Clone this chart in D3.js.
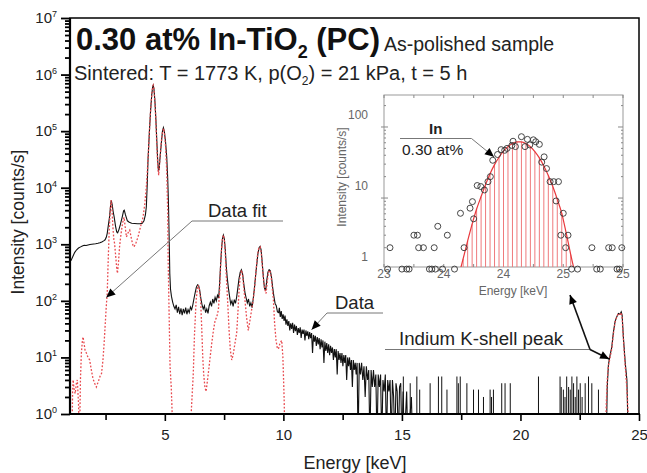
<!DOCTYPE html>
<html>
<head>
<meta charset="utf-8">
<script src="https://cdn.jsdelivr.net/npm/d3@7"></script>
<style>
  body { margin: 0; background: #fff; }
  svg { font-family: "Liberation Sans", Arial, sans-serif; }
</style>
</head>
<body>
<svg id="chart" width="647" height="473"></svg>
<script>
// measured spectrum, [energy keV, counts/s]; 0 = nothing recorded (drawn below the axis)
let spectrum = [
  [1.00,500],[1.05,525],[1.12,610],[1.2,720],[1.28,800],[1.36,860],[1.45,900],[1.52,930],[1.6,960],[1.68,950],
  [1.76,975],[1.84,990],[1.92,1000],[2.0,1010],[2.08,1020],[2.18,1040],[2.26,1060],[2.34,1100],[2.42,1150],[2.48,1200],
  [2.53,1330],[2.57,1560],[2.62,2200],[2.67,3100],[2.71,4800],[2.74,6000],[2.78,5000],[2.82,3800],[2.86,3100],[2.92,2100],
  [2.97,1650],[3.01,1600],[3.06,1800],[3.12,2200],[3.2,3000],[3.26,3900],[3.29,4000],[3.34,3300],[3.42,2600],[3.5,2450],
  [3.6,2350],[3.73,2330],[3.85,2300],[3.95,2300],[4.05,2350],[4.12,2600],[4.18,3300],[4.22,4600],[4.26,12000],[4.29,31000],
  [4.35,100000],[4.40,235000],[4.45,450000],[4.49,620000],[4.51,650000],[4.54,560000],[4.58,350000],[4.62,170000],[4.66,70000],[4.70,30000],
  [4.73,20000],[4.76,21000],[4.80,35000],[4.85,60000],[4.90,100000],[4.94,115000],[4.98,98000],[5.03,65000],[5.08,35000],[5.12,15000],
  [5.15,6000],[5.18,1500],[5.21,300],[5.24,160],[5.28,120],[5.33,95],[5.38,80],[5.43,72],[5.48,85],[5.53,62],
  [5.58,78],[5.63,58],[5.68,74],[5.73,56],[5.78,72],[5.83,60],[5.88,76],[5.93,58],[5.98,70],[6.03,62],
  [6.08,78],[6.13,70],[6.18,85],[6.23,110],[6.28,140],[6.33,175],[6.38,192],[6.42,188],[6.47,155],[6.52,110],
  [6.57,85],[6.62,72],[6.67,82],[6.72,62],[6.77,72],[6.82,60],[6.87,82],[6.92,95],[6.97,80],[7.02,108],
  [7.07,90],[7.12,115],[7.17,100],[7.22,125],[7.27,112],[7.31,200],[7.35,420],[7.39,800],[7.43,1250],[7.47,1450],
  [7.51,1250],[7.55,800],[7.59,420],[7.63,260],[7.68,170],[7.73,120],[7.78,88],[7.83,100],[7.88,80],[7.93,105],
  [7.98,90],[8.03,118],[8.08,170],[8.13,250],[8.18,320],[8.23,355],[8.28,300],[8.33,200],[8.38,140],[8.43,112],
  [8.48,92],[8.53,108],[8.58,80],[8.63,92],[8.68,76],[8.73,110],[8.78,170],[8.83,280],[8.88,450],[8.93,700],
  [8.98,880],[9.02,920],[9.06,800],[9.1,520],[9.15,280],[9.2,170],[9.25,150],[9.3,230],[9.35,320],[9.4,355],
  [9.45,340],[9.5,260],[9.55,170],[9.6,120],[9.65,90],[9.7,82],[9.75,64],[9.8,62],[9.83,75],[9.87,52],
  [9.91,66],[9.95,48],[9.99,58],[10.03,44],[10.07,55],[10.11,38],[10.15,47],[10.19,36],[10.23,44],[10.27,30],
  [10.31,40],[10.35,32],[10.39,41],[10.43,27],[10.47,38],[10.51,29],[10.55,36],[10.59,25],[10.63,33],[10.67,27],
  [10.71,34],[10.75,22],[10.79,31],[10.83,26],[10.87,31],[10.91,20],[10.95,30],[10.99,24],[11.03,29],[11.07,21],
  [11.11,28],[11.15,22],[11.19,27],[11.23,12],[11.27,25],[11.31,19],[11.35,24],[11.39,16],[11.43,23],[11.47,17],
  [11.51,22],[11.55,14],[11.59,21],[11.63,15],[11.67,20],[11.71,8],[11.75,19],[11.79,13],[11.83,18],[11.87,12],
  [11.91,17],[11.95,11],[11.99,16],[12.03,12],[12.07,15],[12.11,9],[12.15,14],[12.19,10],[12.23,14],[12.27,5],
  [12.31,13],[12.35,9],[12.39,12],[12.43,8],[12.47,12],[12.51,7],[12.55,11],[12.59,8],[12.63,11],[12.67,4],
  [12.71,10],[12.75,7],[12.79,10],[12.83,6],[12.87,9],[12.91,3],[12.95,9],[12.99,6],[13.03,8],[13.07,5],
  [13.11,8],[13.15,0],[13.2,8],[13.25,5],[13.3,8],[13.35,4],[13.4,7],[13.45,2],[13.5,7],[13.55,4],
  [13.6,6],[13.65,0],[13.7,6],[13.75,3],[13.8,6],[13.85,3],[13.9,5],[13.95,0],[14.0,5],[14.05,3],
  [14.1,5],[14.15,0],[14.2,4],[14.25,2.5],[14.3,5],[14.35,0],[14.4,4],[14.45,2.5],[14.5,4],[14.55,0],
  [14.6,4],[14.65,2],[14.7,0],[14.75,3.5],[14.8,2.5],[14.85,0],[14.9,3],[14.95,3.5],[15.0,0],[15.05,2.5],
  [15.1,0],[15.2,2.5],[15.25,0],[15.4,2],[15.45,0],
  [23.62,0],[23.66,3],[23.71,7.4],[23.78,11],[23.85,15],[23.92,28],[23.99,43],[24.06,52],[24.13,60],[24.2,58],
  [24.25,64],[24.29,55],[24.34,23],[24.42,8],[24.49,4],[24.55,0]
]

// isolated counts above 15 keV, [energy keV, counts/s]
let spikes = [
  [15.06,4.6],[15.35,3.5],[15.63,4.6],[15.75,2.7],[16.19,3.5],[16.54,4.6],[16.68,4.6],[16.9,2.7],[17.32,4.6],[17.38,3.5],
  [17.46,4.6],[17.74,3.5],[18.02,2.7],[18.23,2.7],[18.44,2.0],[18.72,2.7],[18.78,2.0],[18.86,2.7],[19.21,3.5],[19.35,3.5],
  [19.57,3.5],[20.76,4.6],[21.67,4.6],[21.72,3.0],[21.81,2.7],[21.88,2.0],[21.95,4.6],[22.03,3.0],[22.1,2.7],[22.17,4.6],
  [22.24,3.5],[22.31,2.0],[22.38,4.6],[22.45,2.7],[22.52,3.5],[22.6,2.0],[22.73,3.5],[22.87,4.6],[23.01,3.5],[23.29,2.7]
]

// fitted spectrum, [energy keV, counts/s]
let spectrumFit = [
  [1.08,0],[1.11,2.5],[1.13,4],[1.17,2.8],[1.22,2.3],[1.27,3.5],[1.31,4],[1.36,1.5],[1.40,0],[1.44,4],
  [1.48,12],[1.52,19],[1.55,23],[1.59,18],[1.64,13],[1.69,12],[1.76,10],[1.83,9],[1.9,6],[1.97,4.2],
  [2.04,3.5],[2.11,3],[2.2,3.8],[2.28,4.8],[2.33,5.2],[2.39,9],[2.44,18],[2.48,35],[2.53,80],[2.57,135],
  [2.61,500],[2.65,1600],[2.69,3500],[2.72,5500],[2.74,6000],[2.77,4200],[2.81,2000],[2.85,1200],[2.88,1040],[2.93,600],
  [2.97,380],[3.0,307],[3.04,450],[3.09,900],[3.15,1500],[3.22,2400],[3.28,3000],[3.33,2000],[3.38,1350],[3.45,1600],
  [3.52,1780],[3.6,1200],[3.66,950],[3.7,900],[3.78,1050],[3.87,1350],[3.97,2000],[4.08,3000],[4.15,5000],[4.22,10400],
  [4.27,22000],[4.31,45000],[4.35,100000],[4.40,235000],[4.45,450000],[4.49,620000],[4.51,650000],[4.54,560000],[4.58,340000],[4.62,160000],
  [4.66,60000],[4.70,25000],[4.74,16600],[4.78,28000],[4.83,50000],[4.88,85000],[4.94,112000],[4.98,95000],[5.03,55000],[5.08,20000],
  [5.12,4000],[5.14,525],[5.18,60],[5.22,7],[5.27,3],[5.31,1],[5.34,0],
  [6.06,0],[6.12,1.2],[6.17,3],[6.2,5.2],[6.25,25],[6.32,103],[6.37,160],[6.41,190],[6.46,160],[6.51,103],
  [6.56,30],[6.6,10],[6.64,5],[6.69,3],[6.74,2.5],[6.8,4],[6.86,6.5],[6.91,10],[6.98,18],[7.05,30],
  [7.12,45],[7.19,52],[7.26,70],[7.31,150],[7.35,400],[7.39,800],[7.43,1250],[7.47,1450],[7.51,1200],[7.55,700],
  [7.58,350],[7.61,203],[7.66,80],[7.71,30],[7.76,14],[7.82,9],[7.88,11],[7.95,17],[8.03,27],[8.08,60],
  [8.13,150],[8.18,280],[8.23,350],[8.28,290],[8.33,170],[8.38,103],[8.45,50],[8.52,30],[8.59,45],[8.66,69],
  [8.73,105],[8.79,180],[8.84,320],[8.9,600],[8.96,850],[9.02,900],[9.07,700],[9.12,380],[9.17,220],[9.22,160],
  [9.27,135],[9.32,220],[9.37,320],[9.42,350],[9.47,300],[9.52,190],[9.58,103],[9.63,40],[9.69,20],[9.74,15],
  [9.79,14],[9.86,18],[9.93,20],[9.98,10],[10.03,2],[10.07,0],
  [23.58,0],[23.62,1.5],[23.66,4],[23.71,7],[23.78,10],[23.85,14],[23.92,26],[23.99,42],[24.06,52],[24.13,60],
  [24.2,58],[24.25,62],[24.29,50],[24.34,22],[24.4,9],[24.46,4],[24.51,2],[24.55,0.8],[24.58,0]
]

// inset: channel counts around the In K line, [energy keV, counts/s]
let insetCounts = [
  [23.03,1],[23.05,2],[23.15,1],[23.19,1],[23.21,1],[23.25,3],[23.28,3],[23.29,2],[23.33,2],[23.38,1],
  [23.40,1],[23.42,2],[23.43,1],[23.45,4],[23.49,1],[23.53,3],[23.59,1],[23.64,6.1],[23.67,2],[23.72,7.2],
  [23.74,8.9],[23.75,5.1],[23.78,15],[23.81,14.5],[23.84,13],[23.87,17],[23.89,20],[23.91,34],[23.95,41],[23.98,48],
  [24.01,47],[24.03,50],[24.07,55],[24.08,63],[24.10,53],[24.15,73],[24.18,53],[24.20,67],[24.22,56],[24.25,66],
  [24.27,62],[24.30,57],[24.32,32],[24.34,38],[24.36,26],[24.39,17],[24.42,17],[24.44,9.1],[24.46,17],[24.48,3],
  [24.50,6.1],[24.52,2],[24.54,3],[24.57,1],[24.62,1],[24.74,2],[24.78,1],[24.81,1],[24.88,2],[24.91,2],
  [24.95,1],[24.97,1],[24.99,2]
]

// inset: fitted In K peak per channel
let insetFit = [
  [23.625,0.8],[23.6625,1.4],[23.70,2.5],[23.7375,4.3],[23.775,7],[23.8125,10.5],[23.85,15.5],[23.8875,22],[23.925,29.5],[23.9625,37.5],
  [24.00,45.6],[24.0375,53],[24.075,58.7],[24.1125,61.7],[24.15,61.6],[24.1875,58.4],[24.225,52.6],[24.2625,45.1],[24.30,36.7],[24.3375,28.3],
  [24.375,20.8],[24.4125,14.5],[24.45,9.6],[24.4875,6.1],[24.525,3.2],[24.5625,1.6],[24.60,0.85]
]

let yDecades = [0, 1, 2, 3, 4, 5, 6, 7]
let xTicks = [5, 10, 15, 20, 25]
let xMinorTicks = [2.5, 7.5, 12.5, 17.5, 22.5]
let insetXTicks = [23, 23.5, 24, 24.5, 25]
let insetYTicks = [1, 10, 100]

function make_scales() {
  return {
    x: d3.scaleLinear().domain([1, 25]).range([70, 639]),
    y: d3.scaleLog().domain([1, 1e7]).range([414, 18]),
    ix: d3.scaleLinear().domain([23, 25]).range([384, 623]),
    iy: d3.scaleLog().domain([1.07, 282]).range([267, 95])
  }
}

function log_minors(lo, hi) {
  let out = []
  for (let e = lo; e < hi; e++)
    for (let m = 2; m <= 9; m++) out.push(m * 10 ** e)
  return out
}

function draw_axes(svg, s) {
  // y axis, log decades
  let gy = svg.append("g").attr("transform", "translate(70,0)")
  gy.append("g").call(d3.axisLeft(s.y).tickValues(yDecades.map(e => 10 ** e)).tickSize(9).tickFormat(""))
  gy.append("g").call(d3.axisLeft(s.y).tickValues(log_minors(0, 7)).tickSize(5).tickFormat(""))
  gy.selectAll("path.domain").remove()
  gy.selectAll("line").attr("stroke", "#000").attr("stroke-width", 1.8)

  let lab = svg.append("g").selectAll("text").data(yDecades).enter()
    .append("text")
    .attr("x", 57)
    .attr("y", d => s.y(10 ** d) + 5)
    .attr("text-anchor", "end")
    .attr("font-size", 15)
    .attr("fill", "#222")
    .text("10")
  lab.append("tspan").attr("dy", -6).attr("font-size", 9).text(d => d)

  // x axis
  let gx = svg.append("g").attr("transform", "translate(0,414)")
  gx.append("g").call(d3.axisBottom(s.x).tickValues(xTicks).tickSize(7).tickPadding(8))
  gx.append("g").call(d3.axisBottom(s.x).tickValues(xMinorTicks).tickSize(6).tickFormat(""))
  gx.selectAll("path.domain").remove()
  gx.selectAll("line").attr("stroke", "#000").attr("stroke-width", 1.6)
  gx.selectAll("text").attr("font-size", 15).attr("font-family", "Liberation Sans, Arial, sans-serif").attr("fill", "#222")

  // frame
  svg.append("rect").attr("x", 70).attr("y", 18).attr("width", 569).attr("height", 396)
    .attr("fill", "none").attr("stroke", "#000").attr("stroke-width", 1.5)
  svg.append("line").attr("x1", 70).attr("x2", 70).attr("y1", 18).attr("y2", 415)
    .attr("stroke", "#000").attr("stroke-width", 2.2)
  svg.append("line").attr("x1", 69).attr("x2", 640).attr("y1", 414).attr("y2", 414)
    .attr("stroke", "#000").attr("stroke-width", 2.2)

  svg.append("text")
    .attr("transform", "translate(24,222) rotate(-90)")
    .attr("text-anchor", "middle").attr("font-size", 17.5).attr("fill", "#222")
    .text("Intensity [counts/s]")
  svg.append("text")
    .attr("x", 355).attr("y", 469)
    .attr("text-anchor", "middle").attr("font-size", 18).attr("fill", "#222")
    .text("Energy [keV]")
}

function draw_spectrum(svg, s) {
  svg.append("clipPath").attr("id", "plot-clip")
    .append("rect").attr("x", 70).attr("y", 18).attr("width", 569).attr("height", 396)

  let g = svg.append("g").attr("clip-path", "url(#plot-clip)")
  let line = d3.line()
    .x(d => s.x(d[0]))
    .y(d => s.y(Math.max(d[1], 0.3)))

  g.append("g").selectAll("line")
    .data(spikes).enter()
    .append("line")
    .attr("x1", d => s.x(d[0])).attr("x2", d => s.x(d[0]))
    .attr("y1", s.y(1)).attr("y2", d => s.y(d[1]))
    .attr("stroke", "#111").attr("stroke-width", 1)

  g.append("path").datum(spectrum)
    .attr("d", line)
    .attr("fill", "none").attr("stroke", "#111").attr("stroke-width", 1.1)

  g.append("path").datum(spectrumFit)
    .attr("d", line)
    .attr("fill", "none").attr("stroke", "#e84a4f").attr("stroke-width", 1.3)
    .attr("stroke-dasharray", "1.8,1.8")
}

function draw_inset(svg, s) {
  let g = svg.append("g")
  g.append("rect").attr("x", 384).attr("y", 95).attr("width", 239).attr("height", 172)
    .attr("fill", "#fff").attr("stroke", "#999").attr("stroke-width", 1)

  g.append("clipPath").attr("id", "inset-clip")
    .append("rect").attr("x", 384).attr("y", 95).attr("width", 239).attr("height", 172)

  // ticks on all four sides, pointing inwards
  let ticks = g.append("g").attr("stroke", "#888").attr("stroke-width", 1)
  let xq = d3.range(23, 25.01, 0.25)
  xq.forEach(v => {
    ticks.append("line").attr("x1", s.ix(v)).attr("x2", s.ix(v)).attr("y1", 95).attr("y2", 98)
    ticks.append("line").attr("x1", s.ix(v)).attr("x2", s.ix(v)).attr("y1", 267).attr("y2", 264)
  })
  let ym = log_minors(0, 2).concat([200]).filter(v => v > 1.07 && v < 282)
  ym.forEach(v => {
    ticks.append("line").attr("x1", 384).attr("x2", 386).attr("y1", s.iy(v)).attr("y2", s.iy(v))
    ticks.append("line").attr("x1", 623).attr("x2", 621).attr("y1", s.iy(v)).attr("y2", s.iy(v))
  })
  insetYTicks.filter(v => v > 1.07).forEach(v => {
    ticks.append("line").attr("x1", 381).attr("x2", 388).attr("y1", s.iy(v)).attr("y2", s.iy(v))
    ticks.append("line").attr("x1", 623).attr("x2", 618).attr("y1", s.iy(v)).attr("y2", s.iy(v))
  })

  g.append("g").selectAll("text").data(insetXTicks).enter()
    .append("text")
    .attr("x", d => s.ix(d)).attr("y", 278)
    .attr("text-anchor", "middle").attr("font-size", 12).attr("fill", "#666")
    .text(d => Math.round(d))
  g.append("g").selectAll("text").data(insetYTicks).enter()
    .append("text")
    .attr("x", 368).attr("y", d => s.iy(d) - 8)
    .attr("text-anchor", "end").attr("font-size", 12).attr("fill", "#666")
    .text(d => d)

  g.append("text")
    .attr("transform", "translate(346,177) rotate(-90)")
    .attr("text-anchor", "middle").attr("font-size", 12).attr("fill", "#666")
    .text("Intensity [counts/s]")
  g.append("text")
    .attr("x", 513).attr("y", 295)
    .attr("text-anchor", "middle").attr("font-size", 12).attr("fill", "#666")
    .text("Energy [keV]")

  let inner = g.append("g").attr("clip-path", "url(#inset-clip)")
  inner.append("g").selectAll("line")
    .data(insetFit.filter(d => d[1] > 1.07)).enter()
    .append("line")
    .attr("x1", d => s.ix(d[0])).attr("x2", d => s.ix(d[0]))
    .attr("y1", 267).attr("y2", d => s.iy(d[1]))
    .attr("stroke", "#ef7a7c").attr("stroke-width", 1)

  inner.append("path").datum(insetFit)
    .attr("d", d3.line().x(d => s.ix(d[0])).y(d => s.iy(d[1])).curve(d3.curveMonotoneX))
    .attr("fill", "none").attr("stroke", "#e8383c").attr("stroke-width", 1.2)

  g.append("g").selectAll("circle")
    .data(insetCounts).enter()
    .append("circle")
    .attr("cx", d => s.ix(d[0]))
    .attr("cy", d => s.iy(d[1]))
    .attr("r", 3)
    .attr("fill", "none").attr("stroke", "#333").attr("stroke-width", 0.9)
}

function draw_annotations(svg, s) {
  svg.append("defs").append("marker")
    .attr("id", "arrow").attr("viewBox", "0 0 10 10")
    .attr("refX", 10).attr("refY", 5)
    .attr("markerWidth", 10).attr("markerHeight", 9)
    .attr("markerUnits", "userSpaceOnUse").attr("orient", "auto")
    .append("path").attr("d", "M0,0.5 L10,5 L0,9.5 z").attr("fill", "#000")

  let path = d3.line()
  let note = (pts, colour, width) => svg.append("path")
    .attr("d", path(pts))
    .attr("fill", "none").attr("stroke", colour).attr("stroke-width", width)
    .attr("marker-end", "url(#arrow)")

  note([[283, 221], [192, 221], [s.x(2.53), s.y(115)]], "#777", 1)
  note([[383, 313], [327, 313], [s.x(11.19), s.y(31)]], "#777", 1)
  svg.append("line").attr("x1", 385).attr("x2", 590).attr("y1", 349.5).attr("y2", 349.5)
    .attr("stroke", "#777").attr("stroke-width", 1)
  note([[590, 349.5], [s.x(23.74), s.y(9.4)]], "#111", 1.6)
  note([[590, 349.5], [570, 295]], "#111", 1.6)
  note([[400, 138.5], [471.5, 138.5], [s.ix(23.92), s.iy(38)]], "#777", 1)

  let label = (x, y, size, txt) => svg.append("text")
    .attr("x", x).attr("y", y).attr("font-size", size).attr("fill", "#222").text(txt)
  label(208, 216.5, 18.5, "Data fit")
  label(335, 309, 18.5, "Data")
  label(399, 345, 18.7, "Indium K-shell peak")
  label(429, 134, 15, "In").attr("font-weight", "bold")
  label(402, 155, 15.5, "0.30 at%")
}

function draw_titles(svg) {
  let t = svg.append("text").attr("x", 76).attr("y", 50)
    .attr("font-weight", "bold").attr("font-size", 31).attr("fill", "#111")
  t.append("tspan").text("0.30 at% In-TiO")
  t.append("tspan").attr("font-size", 18).attr("dy", 8).text("2")
  t.append("tspan").attr("dy", -8).text(" (PC)")

  svg.append("text").attr("x", 384).attr("y", 51)
    .attr("font-size", 19.5).attr("fill", "#222").text("As-polished sample")

  let s2 = svg.append("text").attr("x", 74).attr("y", 80)
    .attr("font-size", 20).attr("fill", "#222")
  s2.append("tspan").text("Sintered: T = 1773 K, p(O")
  s2.append("tspan").attr("font-size", 12).attr("dy", 5).text("2")
  s2.append("tspan").attr("dy", -5).text(") = 21 kPa, t = 5 h")
}

function visualize() {
  let svg = d3.select("#chart")
  let scales = make_scales()
  draw_spectrum(svg, scales)
  draw_axes(svg, scales)
  draw_inset(svg, scales)
  draw_annotations(svg, scales)
  draw_titles(svg)
}

visualize()
</script>
</body>
</html>
